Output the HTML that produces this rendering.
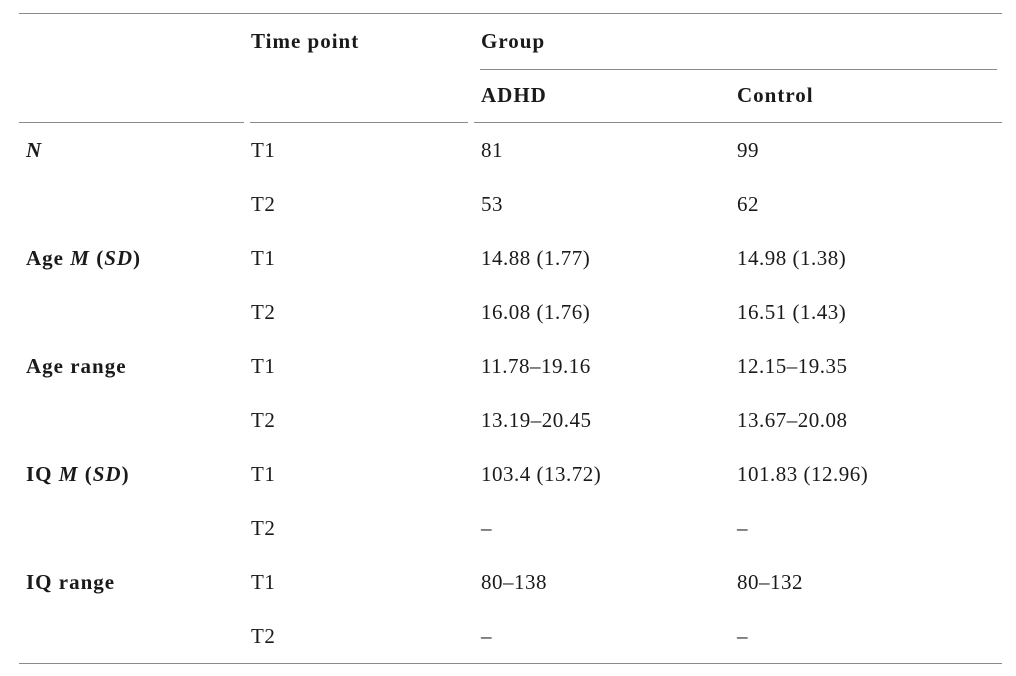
<!DOCTYPE html>
<html><head><meta charset="utf-8"><style>
body{margin:0;width:1016px;height:676px;background:#fff;position:relative;overflow:hidden;font-family:"Liberation Serif",serif;font-size:21px;letter-spacing:0.5px;color:#1a1a1a}
.l{position:absolute;height:1px;background:#8a8a8a}
.t{position:absolute;line-height:20px;white-space:nowrap}
b{font-weight:bold;letter-spacing:1px}
</style></head><body>
<div class="l" style="top:13px;left:19px;width:983px"></div>
<div class="l" style="top:69px;left:480px;width:517px"></div>
<div class="l" style="top:122px;left:19px;width:225px"></div>
<div class="l" style="top:122px;left:250px;width:218px"></div>
<div class="l" style="top:122px;left:474px;width:528px"></div>
<div class="l" style="top:663px;left:19px;width:983px"></div>
<div class="t" style="top:31px;left:251px"><b>Time point</b></div>
<div class="t" style="top:31px;left:481px"><b>Group</b></div>
<div class="t" style="top:85px;left:481px"><b>ADHD</b></div>
<div class="t" style="top:85px;left:737px"><b>Control</b></div>

<div class="t" style="top:140px;left:26px"><b><i>N</i></b></div>
<div class="t" style="top:140px;left:251px">T1</div><div class="t" style="top:140px;left:481px">81</div><div class="t" style="top:140px;left:737px">99</div>
<div class="t" style="top:194px;left:251px">T2</div><div class="t" style="top:194px;left:481px">53</div><div class="t" style="top:194px;left:737px">62</div>

<div class="t" style="top:248px;left:26px"><b>Age <i>M</i> (<i>SD</i>)</b></div>
<div class="t" style="top:248px;left:251px">T1</div><div class="t" style="top:248px;left:481px">14.88 (1.77)</div><div class="t" style="top:248px;left:737px">14.98 (1.38)</div>
<div class="t" style="top:302px;left:251px">T2</div><div class="t" style="top:302px;left:481px">16.08 (1.76)</div><div class="t" style="top:302px;left:737px">16.51 (1.43)</div>

<div class="t" style="top:356px;left:26px"><b>Age range</b></div>
<div class="t" style="top:356px;left:251px">T1</div><div class="t" style="top:356px;left:481px">11.78–19.16</div><div class="t" style="top:356px;left:737px">12.15–19.35</div>
<div class="t" style="top:410px;left:251px">T2</div><div class="t" style="top:410px;left:481px">13.19–20.45</div><div class="t" style="top:410px;left:737px">13.67–20.08</div>

<div class="t" style="top:464px;left:26px"><b>IQ <i>M</i> (<i>SD</i>)</b></div>
<div class="t" style="top:464px;left:251px">T1</div><div class="t" style="top:464px;left:481px">103.4 (13.72)</div><div class="t" style="top:464px;left:737px">101.83 (12.96)</div>
<div class="t" style="top:518px;left:251px">T2</div><div class="t" style="top:518px;left:481px">–</div><div class="t" style="top:518px;left:737px">–</div>

<div class="t" style="top:572px;left:26px"><b>IQ range</b></div>
<div class="t" style="top:572px;left:251px">T1</div><div class="t" style="top:572px;left:481px">80–138</div><div class="t" style="top:572px;left:737px">80–132</div>
<div class="t" style="top:626px;left:251px">T2</div><div class="t" style="top:626px;left:481px">–</div><div class="t" style="top:626px;left:737px">–</div>
</body></html>
